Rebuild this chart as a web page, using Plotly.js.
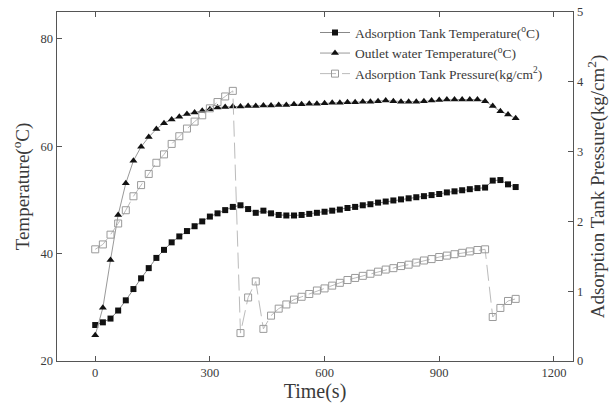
<!DOCTYPE html>
<html>
<head>
<meta charset="utf-8">
<script src="https://cdn.plot.ly/plotly-3.0.1.min.js"></script>
<style>html,body{margin:0;padding:0;background:#fff;}#chart{width:611px;height:412px;}</style>
</head>
<body>
<div id="chart"></div>
<script>
const timeS = [0,20,40,60,80,100,120,140,160,180,200,220,240,260,280,300,320,340,360,380,
  400,420,440,460,480,500,520,540,560,580,600,620,640,660,680,700,720,740,760,780,
  800,820,840,860,880,900,920,940,960,980,1000,1020,1040,1060,1080,1100];

const tankTemp = [26.7,27.2,27.9,29.4,31.3,33.4,35.4,37.3,39.2,40.7,42.1,43.2,44.2,45.1,46.0,46.9,47.5,48.1,48.7,49.0,
  48.3,47.6,48.0,47.5,47.2,47.1,47.1,47.2,47.4,47.6,47.8,48.0,48.2,48.5,48.7,49.0,49.2,49.5,49.7,49.9,
  50.1,50.3,50.5,50.7,50.9,51.1,51.4,51.6,51.8,52.0,52.2,52.3,53.6,53.7,52.9,52.4];

const outletTemp = [24.8,29.9,38.8,47.2,53.1,57.3,59.9,61.7,63.2,64.3,65.0,65.5,66.0,66.3,66.6,66.9,67.2,67.3,67.4,67.4,
  67.5,67.5,67.6,67.6,67.7,67.7,67.8,67.8,67.9,67.9,68.0,68.1,68.1,68.2,68.2,68.3,68.3,68.4,68.5,68.4,
  68.3,68.3,68.3,68.4,68.5,68.6,68.7,68.7,68.7,68.7,68.7,68.4,67.5,66.5,65.9,65.2];

const tankPressure = [1.60,1.67,1.81,1.97,2.16,2.36,2.52,2.68,2.84,2.96,3.11,3.22,3.33,3.43,3.52,3.62,3.71,3.79,3.87,0.40,
  0.91,1.14,0.46,0.65,0.75,0.81,0.88,0.92,0.96,1.01,1.04,1.08,1.12,1.16,1.19,1.22,1.25,1.28,1.31,1.33,
  1.36,1.38,1.41,1.44,1.46,1.49,1.51,1.53,1.55,1.57,1.59,1.60,0.63,0.76,0.86,0.89];

const xTicks = [0,300,600,900,1200];
const yTicks = [20,40,60,80];
const y2Ticks = [0,1,2,3,4,5];

const serif = 'Liberation Serif, Times New Roman, serif';
const axisColor = '#555';
const textColor = '#3a3a3a';

const traces = [
  {
    x: timeS, y: tankTemp, name: 'Adsorption Tank Temperature(<sup>o</sup>C)',
    mode: 'lines+markers', line: {color: '#888', width: 1},
    marker: {symbol: 'square', size: 6, color: '#111'}
  },
  {
    x: timeS, y: outletTemp, name: 'Outlet water Temperature(<sup>o</sup>C)',
    mode: 'lines+markers', line: {color: '#999', width: 1},
    marker: {symbol: 'triangle-up', size: 7, color: '#111'}
  },
  {
    x: timeS, y: tankPressure, name: 'Adsorption Tank Pressure(kg/cm<sup>2</sup>)', yaxis: 'y2',
    mode: 'lines+markers', line: {color: '#bbb', width: 1, dash: '16px,6px'},
    marker: {symbol: 'square-open', size: 7, color: '#9a9a9a', line: {width: 1}}
  }
];

const layout = {
  width: 611, height: 412,
  margin: {l: 57, r: 38, t: 12, b: 51},
  paper_bgcolor: '#fff', plot_bgcolor: '#fff',
  font: {family: serif, color: textColor, size: 12},
  showlegend: true,
  legend: {x: 0.5, y: 0.985, xanchor: 'left', yanchor: 'top', bgcolor: 'rgba(0,0,0,0)',
           font: {family: serif, size: 13.5, color: textColor}, tracegroupgap: 0},
  xaxis: {
    range: [-100, 1250], tickvals: xTicks, ticktext: xTicks.map(String),
    ticks: 'inside', ticklen: 5, tickcolor: axisColor, showline: true, linecolor: axisColor, linewidth: 1.4,
    mirror: 'ticks', showgrid: false, zeroline: false,
    tickfont: {family: serif, size: 12.5, color: textColor},
    title: {text: 'Time(s)', font: {family: serif, size: 20, color: textColor}, standoff: 4}
  },
  yaxis: {
    range: [20, 85], tickvals: yTicks, ticktext: yTicks.map(String),
    ticks: 'inside', ticklen: 5, tickcolor: axisColor, showline: true, linecolor: axisColor, linewidth: 1.4,
    mirror: true, showgrid: false, zeroline: false,
    tickfont: {family: serif, size: 12.5, color: textColor},
    title: {text: 'Temperature(<sup>o</sup>C)', font: {family: serif, size: 19, color: textColor}, standoff: 6}
  },
  yaxis2: {
    overlaying: 'y', side: 'right', range: [0, 5], tickvals: y2Ticks, ticktext: y2Ticks.map(String),
    ticks: 'inside', ticklen: 5, tickcolor: axisColor, showline: true, linecolor: axisColor, linewidth: 1.4,
    showgrid: false, zeroline: false,
    tickfont: {family: serif, size: 12.5, color: textColor},
    title: {text: 'Adsorption Tank Pressure(kg/cm<sup>2</sup>)', font: {family: serif, size: 19, color: textColor}, standoff: 4}
  }
};

Plotly.newPlot('chart', traces, layout, {displayModeBar: false, staticPlot: true});
</script>
</body>
</html>
